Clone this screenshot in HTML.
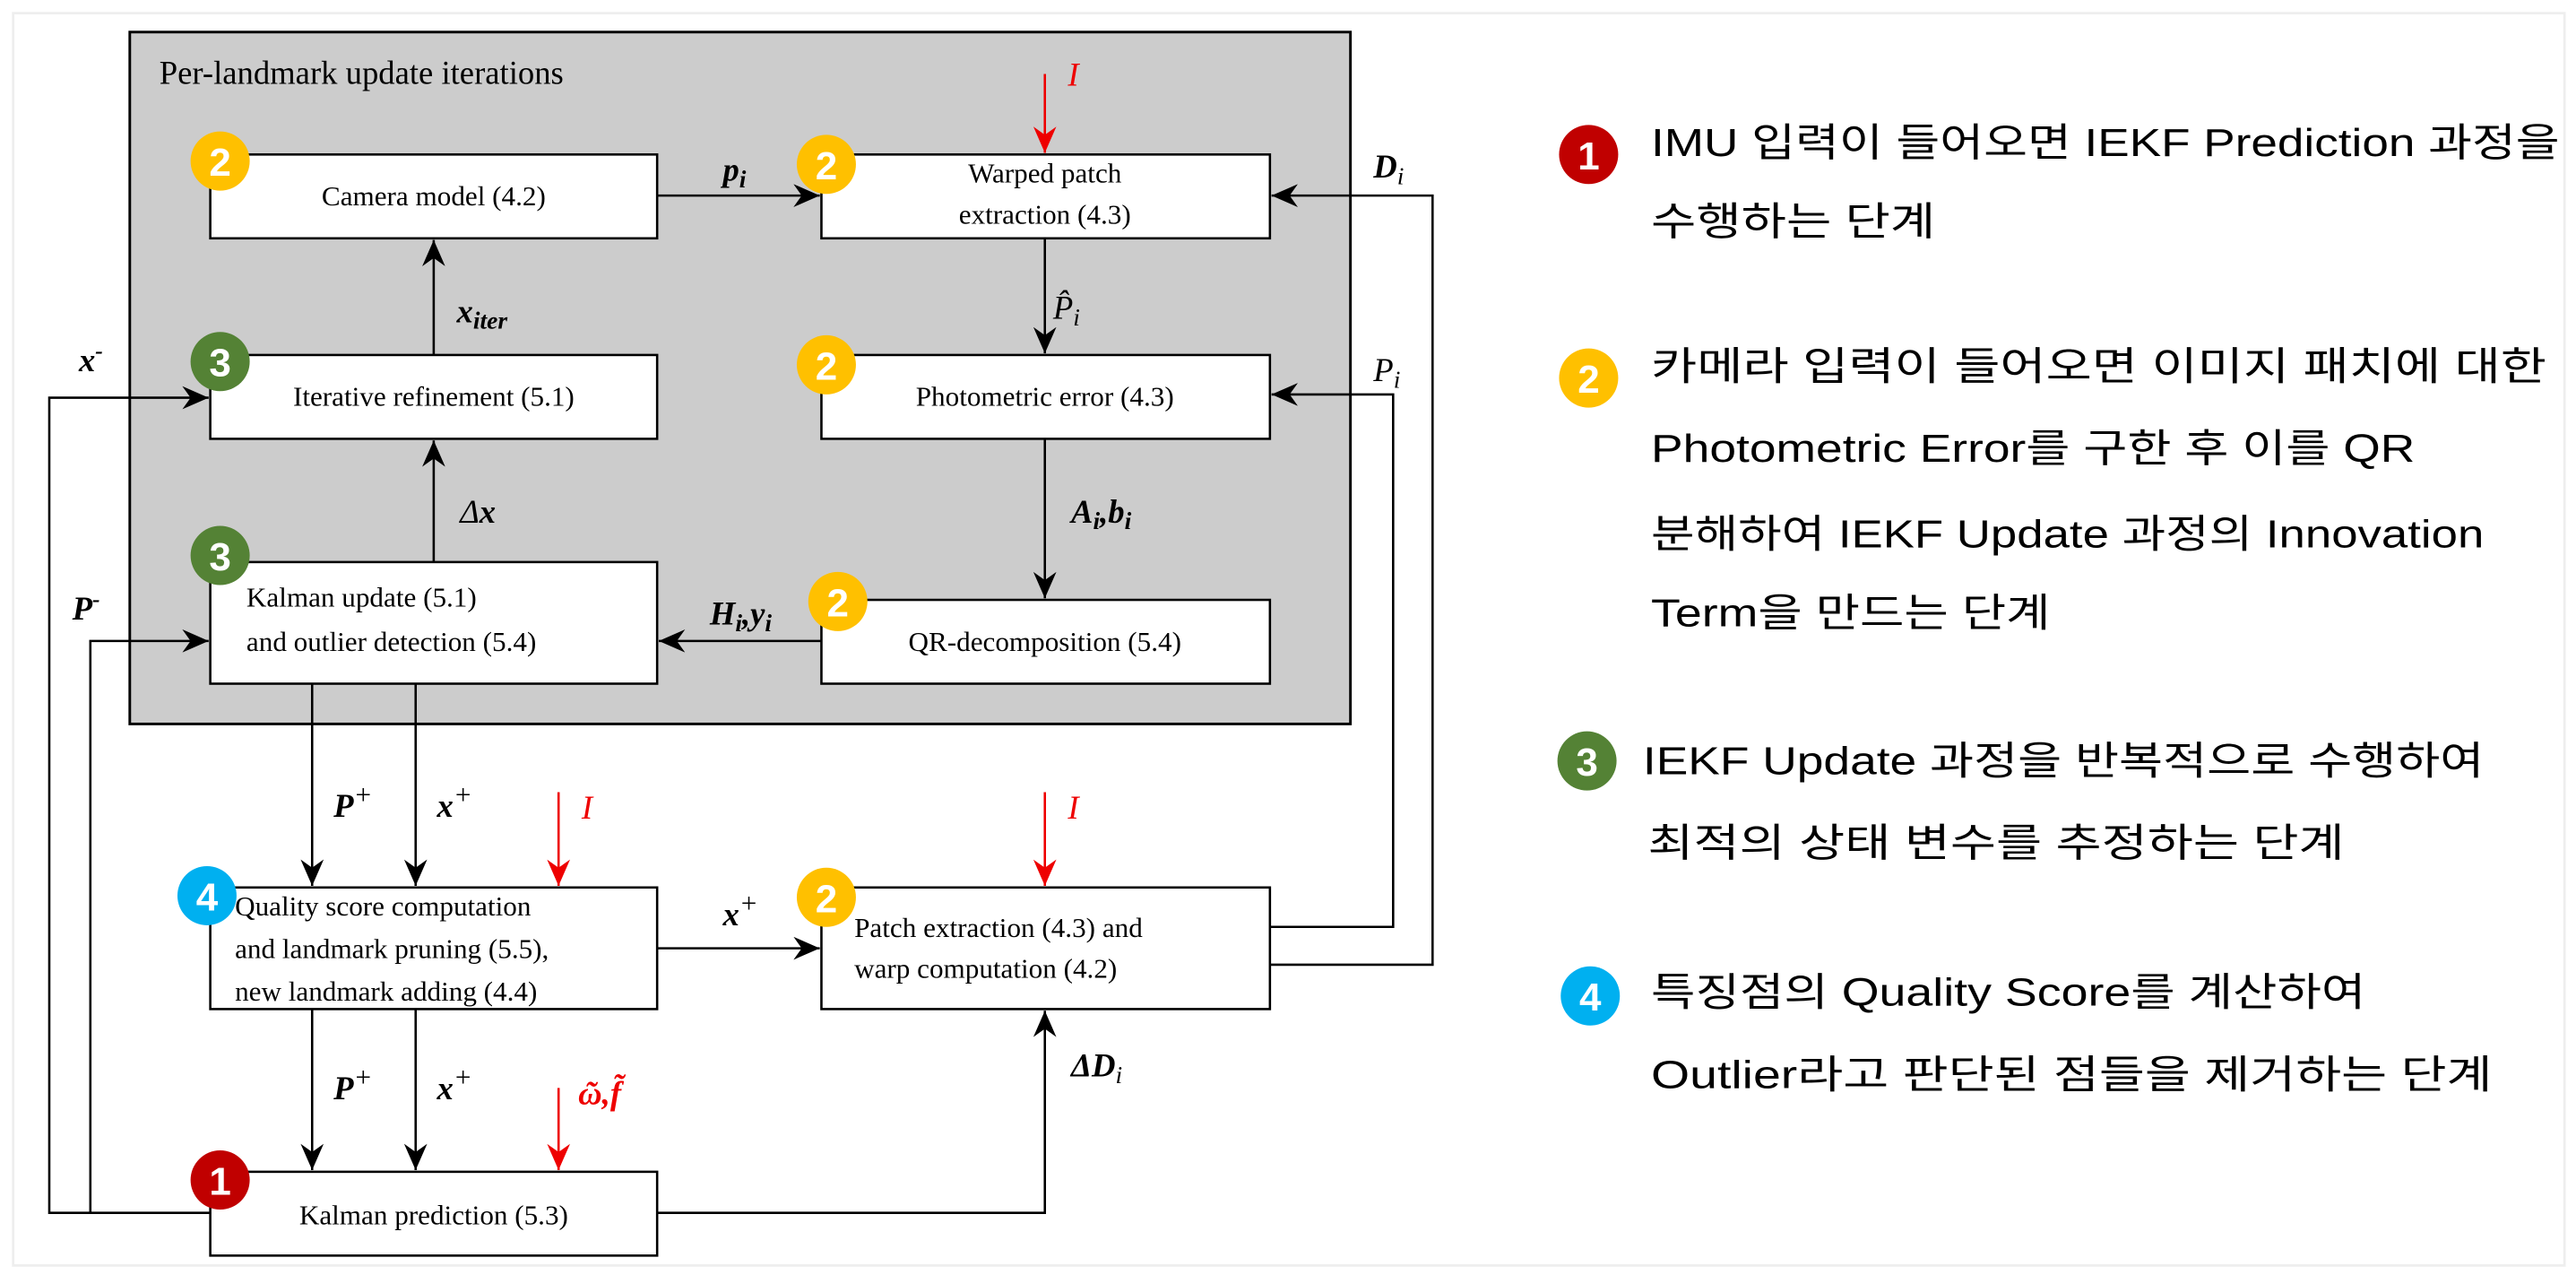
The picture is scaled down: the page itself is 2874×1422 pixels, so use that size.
<!DOCTYPE html>
<html><head><meta charset="utf-8"><style>
html,body{margin:0;padding:0;background:#fff;}
svg{display:block}
.s{font-family:"Liberation Serif","DejaVu Serif",serif;font-size:17px;fill:#000}
.t{font-family:"Liberation Serif","DejaVu Serif",serif;font-size:20px;fill:#000}
.m{font-family:"Liberation Serif",serif;font-style:italic;font-weight:bold;font-size:20px;fill:#000}
.mi{font-family:"Liberation Serif",serif;font-style:italic;font-size:20px;fill:#000}
.k{font-family:"Liberation Sans","Noto Sans CJK KR",sans-serif;font-size:24px;fill:#000}
.b{font-family:"Liberation Sans","DejaVu Sans",sans-serif;font-weight:bold;font-size:24px;fill:#fff;text-anchor:middle}
</style></head><body>
<svg width="2874" height="1422" viewBox="0 0 1568 775.8" xmlns="http://www.w3.org/2000/svg">
<defs>
<marker id="a" markerUnits="userSpaceOnUse" markerWidth="18" markerHeight="14" refX="16" refY="7" orient="auto"><path d="M0,0 L16,7 L0,14 L5,7 z" fill="#000"/></marker>
<marker id="r" markerUnits="userSpaceOnUse" markerWidth="18" markerHeight="14" refX="16" refY="7" orient="auto"><path d="M0,0 L16,7 L0,14 L5,7 z" fill="#e00"/></marker>
</defs>
<rect x="8" y="8" width="1553" height="762" fill="#fff" stroke="#eee" stroke-width="1.5"/>
<rect x="79" y="19.5" width="743" height="421" fill="#cccccc" stroke="#000" stroke-width="1.6"/>
<text x="97" y="51" class="t">Per-landmark update iterations</text>

<g fill="#fff" stroke="#000" stroke-width="1.4">
<rect x="128" y="94" width="272" height="51"/>
<rect x="500" y="94" width="273" height="51"/>
<rect x="128" y="216" width="272" height="51"/>
<rect x="500" y="216" width="273" height="51"/>
<rect x="128" y="342" width="272" height="74"/>
<rect x="500" y="365" width="273" height="51"/>
<rect x="128" y="540" width="272" height="74"/>
<rect x="500" y="540" width="273" height="74"/>
<rect x="128" y="713" width="272" height="51"/>
</g>
<text x="264" y="125" class="s" text-anchor="middle">Camera model (4.2)</text>
<text x="636" y="111" class="s" text-anchor="middle">Warped patch</text>
<text x="636" y="136" class="s" text-anchor="middle">extraction (4.3)</text>
<text x="264" y="247" class="s" text-anchor="middle">Iterative refinement (5.1)</text>
<text x="636" y="247" class="s" text-anchor="middle">Photometric error (4.3)</text>
<text x="150" y="369" class="s">Kalman update (5.1)</text>
<text x="150" y="396" class="s">and outlier detection (5.4)</text>
<text x="636" y="396" class="s" text-anchor="middle">QR-decomposition (5.4)</text>
<text x="143" y="557" class="s">Quality score computation</text>
<text x="143" y="583" class="s">and landmark pruning (5.5),</text>
<text x="143" y="609" class="s">new landmark adding (4.4)</text>
<text x="520" y="570" class="s">Patch extraction (4.3) and</text>
<text x="520" y="595" class="s">warp computation (4.2)</text>
<text x="264" y="745" class="s" text-anchor="middle">Kalman prediction (5.3)</text>

<g stroke="#000" stroke-width="1.4" fill="none" marker-end="url(#a)">
<path d="M400,119 H499"/>
<path d="M636,145 V215"/>
<path d="M636,267 V364"/>
<path d="M500,390 H401"/>
<path d="M264,342 V268"/>
<path d="M264,216 V146"/>
<path d="M773,587 H872 V119 H774"/>
<path d="M773,564 H848 V240 H774"/>
<path d="M128,738 H30 V242 H127"/>
<path d="M55,738 V390 H127"/>
<path d="M190,416 V539"/>
<path d="M253,416 V539"/>
<path d="M400,577 H499"/>
<path d="M190,614 V712"/>
<path d="M253,614 V712"/>
<path d="M400,738 H636 V615"/>
</g>
<g stroke="#e00" stroke-width="1.4" fill="none" marker-end="url(#r)">
<path d="M636,45 V93"/>
<path d="M340,482 V539"/>
<path d="M636,482 V539"/>
<path d="M340,662 V712"/>
</g>
<text x="650" y="52" class="mi" style="fill:#e00">I</text>
<text x="354" y="498" class="mi" style="fill:#e00">I</text>
<text x="650" y="498" class="mi" style="fill:#e00">I</text>
<text x="352" y="672" class="m" style="fill:#e00">ῶ,f͂</text>

<text x="440" y="110" class="m">p<tspan font-size="15" dy="4">i</tspan></text>
<text x="641" y="194" class="mi">P̂<tspan font-size="15" dy="4">i</tspan></text>
<text x="652" y="318" class="m">A<tspan font-size="15" dy="4">i</tspan><tspan dy="-4">,b</tspan><tspan font-size="15" dy="4">i</tspan></text>
<text x="432" y="380" class="m">H<tspan font-size="15" dy="4">i</tspan><tspan dy="-4">,y</tspan><tspan font-size="15" dy="4">i</tspan></text>
<text x="280" y="318" class="mi">Δ<tspan font-weight="bold">x</tspan></text>
<text x="278" y="196" class="m">x<tspan font-size="15" dy="4">iter</tspan></text>
<text x="836" y="108" class="m">D<tspan font-size="15" dy="4" font-weight="normal">i</tspan></text>
<text x="836" y="232" class="mi">P<tspan font-size="15" dy="4">i</tspan></text>
<text x="48" y="226" class="m">x<tspan font-size="14" dy="-8">-</tspan></text>
<text x="44" y="377" class="m">P<tspan font-size="14" dy="-8">-</tspan></text>
<text x="203" y="497" class="m">P<tspan font-size="17" dy="-8" font-weight="normal">+</tspan></text>
<text x="266" y="497" class="m">x<tspan font-size="17" dy="-8" font-weight="normal">+</tspan></text>
<text x="440" y="563" class="m">x<tspan font-size="17" dy="-8" font-weight="normal">+</tspan></text>
<text x="203" y="669" class="m">P<tspan font-size="17" dy="-8" font-weight="normal">+</tspan></text>
<text x="266" y="669" class="m">x<tspan font-size="17" dy="-8" font-weight="normal">+</tspan></text>
<text x="652" y="655" class="m">ΔD<tspan font-size="15" dy="4" font-weight="normal">i</tspan></text>

<g>
<circle cx="134" cy="98" r="18" fill="#FFC000"/><text x="134" y="107" class="b">2</text>
<circle cx="503" cy="100" r="18" fill="#FFC000"/><text x="503" y="109" class="b">2</text>
<circle cx="134" cy="220" r="18" fill="#548235"/><text x="134" y="229" class="b">3</text>
<circle cx="503" cy="222" r="18" fill="#FFC000"/><text x="503" y="231" class="b">2</text>
<circle cx="134" cy="338" r="18" fill="#548235"/><text x="134" y="347" class="b">3</text>
<circle cx="510" cy="366" r="18" fill="#FFC000"/><text x="510" y="375" class="b">2</text>
<circle cx="126" cy="545" r="18" fill="#00B0F0"/><text x="126" y="554" class="b">4</text>
<circle cx="503" cy="546" r="18" fill="#FFC000"/><text x="503" y="555" class="b">2</text>
<circle cx="134" cy="718" r="18" fill="#C00000"/><text x="134" y="727" class="b">1</text>

<circle cx="967" cy="94" r="18" fill="#C00000"/><text x="967" y="103" class="b">1</text>
<circle cx="967" cy="230" r="18" fill="#FFC000"/><text x="967" y="239" class="b">2</text>
<circle cx="966" cy="463" r="18" fill="#548235"/><text x="966" y="472" class="b">3</text>
<circle cx="968" cy="606" r="18" fill="#00B0F0"/><text x="968" y="615" class="b">4</text>
</g>
<g>
<text class="k" x="1005" y="95" textLength="553" lengthAdjust="spacingAndGlyphs">IMU 입력이 들어오면 IEKF Prediction 과정을</text>
<text class="k" x="1005" y="143" textLength="173" lengthAdjust="spacingAndGlyphs">수행하는 단계</text>
<text class="k" x="1005" y="231" textLength="545" lengthAdjust="spacingAndGlyphs">카메라 입력이 들어오면 이미지 패치에 대한</text>
<text class="k" x="1005" y="281" textLength="465" lengthAdjust="spacingAndGlyphs">Photometric Error를 구한 후 이를 QR</text>
<text class="k" x="1005" y="333" textLength="507" lengthAdjust="spacingAndGlyphs">분해하여 IEKF Update 과정의 Innovation</text>
<text class="k" x="1005" y="381" textLength="243" lengthAdjust="spacingAndGlyphs">Term을 만드는 단계</text>
<text class="k" x="1000" y="471" textLength="512" lengthAdjust="spacingAndGlyphs">IEKF Update 과정을 반복적으로 수행하여</text>
<text class="k" x="1003" y="521" textLength="424" lengthAdjust="spacingAndGlyphs">최적의 상태 변수를 추정하는 단계</text>
<text class="k" x="1005" y="612" textLength="435" lengthAdjust="spacingAndGlyphs">특징점의 Quality Score를 계산하여</text>
<text class="k" x="1005" y="662" textLength="512" lengthAdjust="spacingAndGlyphs">Outlier라고 판단된 점들을 제거하는 단계</text>
</g>
</svg>
</body></html>
